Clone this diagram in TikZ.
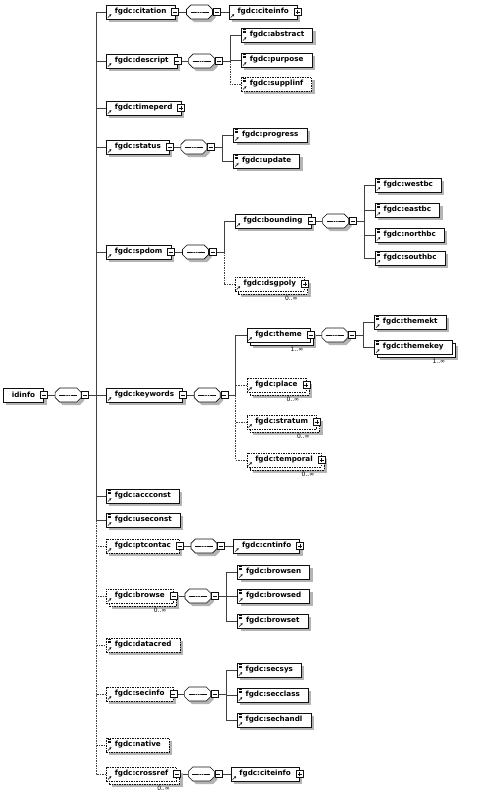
\documentclass[tikz,border=0pt]{standalone}
\usepackage{fontspec}
\setsansfont{DejaVu Sans}
\usepackage{tikz}
\usetikzlibrary{positioning,shadows,shapes.misc,arrows.meta,backgrounds}
\definecolor{xsborder}{HTML}{101010}
\definecolor{xslink}{HTML}{404040}
\definecolor{xsshadow}{HTML}{B4B4B4}
\newcommand{\boxfont}{\sffamily\bfseries\fontsize{7.2pt}{8pt}\selectfont}
\newcommand{\multfont}{\sffamily\fontsize{6pt}{7pt}\selectfont}
% little marks drawn inside the boxes
\newcommand{\refarrow}{\draw[solid, line width=0.5pt, -{Stealth[length=2.2pt, width=2.4pt]}]
  ([shift={(1.6pt,1.4pt)}]path picture bounding box.south west) -- ++(3.4pt,3.4pt);}
\newcommand{\simpmark}{\foreach \k in {0,1,2}
  {\draw[solid, line width=0.3pt] ([shift={(1.8pt,-1.4pt-\k*1.3pt)}]path picture bounding box.north west) -- ++(3pt,0pt);}}
\newcommand{\minusmark}{\draw[solid, line width=0.5pt]
  ([xshift=-2pt]path picture bounding box.center) -- ([xshift=2pt]path picture bounding box.center);}
\newcommand{\plusmark}{\minusmark\draw[solid, line width=0.5pt]
  ([yshift=-2pt]path picture bounding box.center) -- ([yshift=2pt]path picture bounding box.center);}
\newcommand{\seqmark}{\draw[solid, line width=0.5pt]
  ([xshift=4pt]path picture bounding box.west) -- ([xshift=-4pt]path picture bounding box.east);
  \foreach \k in {-2.3,0,2.3}{\fill ([xshift=\k pt]path picture bounding box.center) circle (0.75pt);}}

\begin{document}
\begin{tikzpicture}[
  x=1pt, y=-1pt,
  font=\boxfont,
  shad/.style={drop shadow={opacity=1, fill=xsshadow, shadow xshift=#1, shadow yshift=-#1}},
  box/.style={draw=xsborder, fill=white, line width=0.6pt, anchor=west, minimum height=14pt, inner xsep=8.5pt, inner ysep=0pt, shad=3pt},
  root/.style={box},
  elem/.style={box, path picture={\refarrow}},
  selem/.style={box, path picture={\refarrow\simpmark}},
  opt/.style={dash pattern=on 1.5pt off 1pt},
  multi/.style={shad=6pt, copy shadow={shadow xshift=3pt, shadow yshift=-3pt, draw=xsborder, fill=white, line width=0.6pt, #1}},
  multi/.default=solid,
  tog/.style={draw=xsborder, fill=white, line width=0.5pt, solid, minimum size=7pt, inner sep=0pt},
  exp/.style={append after command={node[tog, path picture={\minusmark}] at (\tikzlastnode.east) {}}},
  col/.style={append after command={node[tog, path picture={\plusmark}] at (\tikzlastnode.east) {}}},
  seq/.style={shape=chamfered rectangle, chamfered rectangle xsep=2.2pt, chamfered rectangle ysep=2.2pt, text width=21.6pt, text height=4.8pt, text depth=4.8pt, draw=xsborder, fill=white, line width=0.6pt, anchor=west, inner sep=0pt, shad=3pt, path picture={\seqmark}, append after command={node[tog, anchor=west, path picture={\minusmark}] at (\tikzlastnode.east) {}}},
  link/.style={draw=xslink, line width=0.5pt},
  mult/.style={font=\multfont, inner sep=0pt, anchor=north east}
]
\useasboundingbox (0,0) rectangle (488,801);
% Root element and its sequence
\node[root, exp] (idinfo) at (3,395) {idinfo};
\node[seq, right=11pt of idinfo.east] (idseq) {};
\coordinate (trunk) at (96,395);
% Children of idinfo
\node[elem, exp] (citation) at (106,12) {fgdc:citation};
\node[elem, exp] (descript) at (106,61) {fgdc:descript};
\node[elem, col] (timeperd) at (106,108) {fgdc:timeperd};
\node[elem, exp] (status) at (106,147) {fgdc:status};
\node[elem, exp] (spdom) at (106,252) {fgdc:spdom};
\node[elem, exp] (keywords) at (106,395) {fgdc:keywords};
\node[selem] (accconst) at (106,496) {fgdc:accconst};
\node[selem] (useconst) at (106,520) {fgdc:useconst};
\node[elem, opt, exp] (ptcontac) at (106,546) {fgdc:ptcontac};
\node[elem, opt, multi=opt, exp] (browse) at (106,596) {fgdc:browse};
\node[mult] (browsem) at ([shift={(-7pt,-5pt)}]browse.south east) {0..∞};
\node[selem, opt] (datacred) at (106,645) {fgdc:datacred};
\node[elem, opt, exp] (secinfo) at (106,694) {fgdc:secinfo};
\node[selem, opt] (native) at (106,745) {fgdc:native};
\node[elem, opt, multi=opt, exp] (crossref) at (106,774) {fgdc:crossref};
\node[mult] (crossrefm) at ([shift={(-7pt,-5pt)}]crossref.south east) {0..∞};
% citation
\node[seq, right=11pt of citation.east] (citseq) {};
\node[elem, col, right=16pt of citseq.east] (citeinfo) {fgdc:citeinfo};
% descript
\node[seq, right=11pt of descript.east] (desseq) {};
\coordinate[right=15pt of desseq.east] (desbr);
\coordinate[right=11pt of desbr] (descol);
\node[selem] (abstract) at (descol |- 0,35) {fgdc:abstract};
\node[selem] (purpose) at (descol |- 0,60) {fgdc:purpose};
\node[selem, opt] (supplinf) at (descol |- 0,84) {fgdc:supplinf};
% status
\node[seq, right=11pt of status.east] (staseq) {};
\coordinate[right=15pt of staseq.east] (stabr);
\coordinate[right=11pt of stabr] (stacol);
\node[selem] (progress) at (stacol |- 0,135) {fgdc:progress};
\node[selem] (update) at (stacol |- 0,161) {fgdc:update};
% spdom
\node[seq, right=11pt of spdom.east] (spdseq) {};
\coordinate[right=15pt of spdseq.east] (spdbr);
\coordinate[right=11pt of spdbr] (spdcol);
\node[elem, exp] (bounding) at (spdcol |- 0,221) {fgdc:bounding};
\node[elem, opt, multi=opt, col] (dsgpoly) at (spdcol |- 0,284) {fgdc:dsgpoly};
\node[mult] (dsgpolym) at ([shift={(-7pt,-5pt)}]dsgpoly.south east) {0..∞};
% bounding
\node[seq, right=11pt of bounding.east] (bndseq) {};
\coordinate[right=15pt of bndseq.east] (bndbr);
\coordinate[right=11pt of bndbr] (bndcol);
\node[selem] (westbc) at (bndcol |- 0,185) {fgdc:westbc};
\node[selem] (eastbc) at (bndcol |- 0,210) {fgdc:eastbc};
\node[selem] (northbc) at (bndcol |- 0,235) {fgdc:northbc};
\node[selem] (southbc) at (bndcol |- 0,258) {fgdc:southbc};
% keywords
\node[seq, right=11pt of keywords.east] (kwseq) {};
\coordinate[right=15pt of kwseq.east] (kwbr);
\coordinate[right=11pt of kwbr] (kwcol);
\node[elem, multi, exp] (theme) at (kwcol |- 0,335) {fgdc:theme};
\node[mult] (themem) at ([shift={(-7pt,-5pt)}]theme.south east) {1..∞};
\node[elem, opt, multi=opt, col] (place) at (kwcol |- 0,385) {fgdc:place};
\node[mult] (placem) at ([shift={(-7pt,-5pt)}]place.south east) {0..∞};
\node[elem, opt, multi=opt, col] (stratum) at (kwcol |- 0,422) {fgdc:stratum};
\node[mult] (stratumm) at ([shift={(-7pt,-5pt)}]stratum.south east) {0..∞};
\node[elem, opt, multi=opt, col] (temporal) at (kwcol |- 0,460) {fgdc:temporal};
\node[mult] (temporalm) at ([shift={(-7pt,-5pt)}]temporal.south east) {0..∞};
% theme
\node[seq, right=11pt of theme.east] (thmseq) {};
\coordinate[right=15pt of thmseq.east] (thmbr);
\coordinate[right=11pt of thmbr] (thmcol);
\node[selem] (themekt) at (thmcol |- 0,322) {fgdc:themekt};
\node[selem, multi] (themekey) at (thmcol |- 0,347) {fgdc:themekey};
\node[mult] (themekeym) at ([shift={(-7pt,-5pt)}]themekey.south east) {1..∞};
% ptcontac
\node[seq, right=11pt of ptcontac.east] (ptcseq) {};
\node[elem, col, right=16pt of ptcseq.east] (cntinfo) {fgdc:cntinfo};
% browse
\node[seq, right=11pt of browse.east] (brwseq) {};
\coordinate[right=15pt of brwseq.east] (brwbr);
\coordinate[right=11pt of brwbr] (brwcol);
\node[selem] (browsen) at (brwcol |- 0,572) {fgdc:browsen};
\node[selem] (browsed) at (brwcol |- 0,596) {fgdc:browsed};
\node[selem] (browset) at (brwcol |- 0,621) {fgdc:browset};
% secinfo
\node[seq, right=11pt of secinfo.east] (secseq) {};
\coordinate[right=15pt of secseq.east] (secbr);
\coordinate[right=11pt of secbr] (seccol);
\node[selem] (secsys) at (seccol |- 0,670) {fgdc:secsys};
\node[selem] (secclass) at (seccol |- 0,695) {fgdc:secclass};
\node[selem] (sechandl) at (seccol |- 0,720) {fgdc:sechandl};
% crossref
\node[seq, right=11pt of crossref.east] (crsseq) {};
\node[elem, col, right=16pt of crsseq.east] (xciteinfo) {fgdc:citeinfo};
% Connectors
\begin{scope}[on background layer]
  \draw[link] (idinfo.east) -- (idseq.west);
  \draw[link] (idseq.east) -- (trunk);
  \draw[link] (trunk) |- (citation.west);
  \draw[link] (trunk) |- (descript.west);
  \draw[link] (trunk) |- (timeperd.west);
  \draw[link] (trunk) |- (status.west);
  \draw[link] (trunk) |- (spdom.west);
  \draw[link] (trunk) |- (keywords.west);
  \draw[link] (trunk) |- (accconst.west);
  \draw[link] (trunk) |- (useconst.west);
  \draw[link, opt] (trunk) |- (ptcontac.west);
  \draw[link, opt] (trunk) |- (browse.west);
  \draw[link, opt] (trunk) |- (datacred.west);
  \draw[link, opt] (trunk) |- (secinfo.west);
  \draw[link, opt] (trunk) |- (native.west);
  \draw[link, opt] (trunk) |- (crossref.west);
  \draw[link] (citation.east) -- (citseq.west);
  \draw[link] (citseq.east) -- (citeinfo.west);
  \draw[link] (descript.east) -- (desseq.west);
  \draw[link] (desseq.east) -- (desbr);
  \draw[link] (desbr) |- (abstract.west);
  \draw[link] (desbr) |- (purpose.west);
  \draw[link, opt] (desbr) |- (supplinf.west);
  \draw[link] (status.east) -- (staseq.west);
  \draw[link] (staseq.east) -- (stabr);
  \draw[link] (stabr) |- (progress.west);
  \draw[link] (stabr) |- (update.west);
  \draw[link] (spdom.east) -- (spdseq.west);
  \draw[link] (spdseq.east) -- (spdbr);
  \draw[link] (spdbr) |- (bounding.west);
  \draw[link, opt] (spdbr) |- (dsgpoly.west);
  \draw[link] (bounding.east) -- (bndseq.west);
  \draw[link] (bndseq.east) -- (bndbr);
  \draw[link] (bndbr) |- (westbc.west);
  \draw[link] (bndbr) |- (eastbc.west);
  \draw[link] (bndbr) |- (northbc.west);
  \draw[link] (bndbr) |- (southbc.west);
  \draw[link] (keywords.east) -- (kwseq.west);
  \draw[link] (kwseq.east) -- (kwbr);
  \draw[link] (kwbr) |- (theme.west);
  \draw[link, opt] (kwbr) |- (place.west);
  \draw[link, opt] (kwbr) |- (stratum.west);
  \draw[link, opt] (kwbr) |- (temporal.west);
  \draw[link] (theme.east) -- (thmseq.west);
  \draw[link] (thmseq.east) -- (thmbr);
  \draw[link] (thmbr) |- (themekt.west);
  \draw[link] (thmbr) |- (themekey.west);
  \draw[link] (ptcontac.east) -- (ptcseq.west);
  \draw[link] (ptcseq.east) -- (cntinfo.west);
  \draw[link] (browse.east) -- (brwseq.west);
  \draw[link] (brwseq.east) -- (brwbr);
  \draw[link] (brwbr) |- (browsen.west);
  \draw[link] (brwbr) |- (browsed.west);
  \draw[link] (brwbr) |- (browset.west);
  \draw[link] (secinfo.east) -- (secseq.west);
  \draw[link] (secseq.east) -- (secbr);
  \draw[link] (secbr) |- (secsys.west);
  \draw[link] (secbr) |- (secclass.west);
  \draw[link] (secbr) |- (sechandl.west);
  \draw[link] (crossref.east) -- (crsseq.west);
  \draw[link] (crsseq.east) -- (xciteinfo.west);
\end{scope}
\end{tikzpicture}
\end{document}
